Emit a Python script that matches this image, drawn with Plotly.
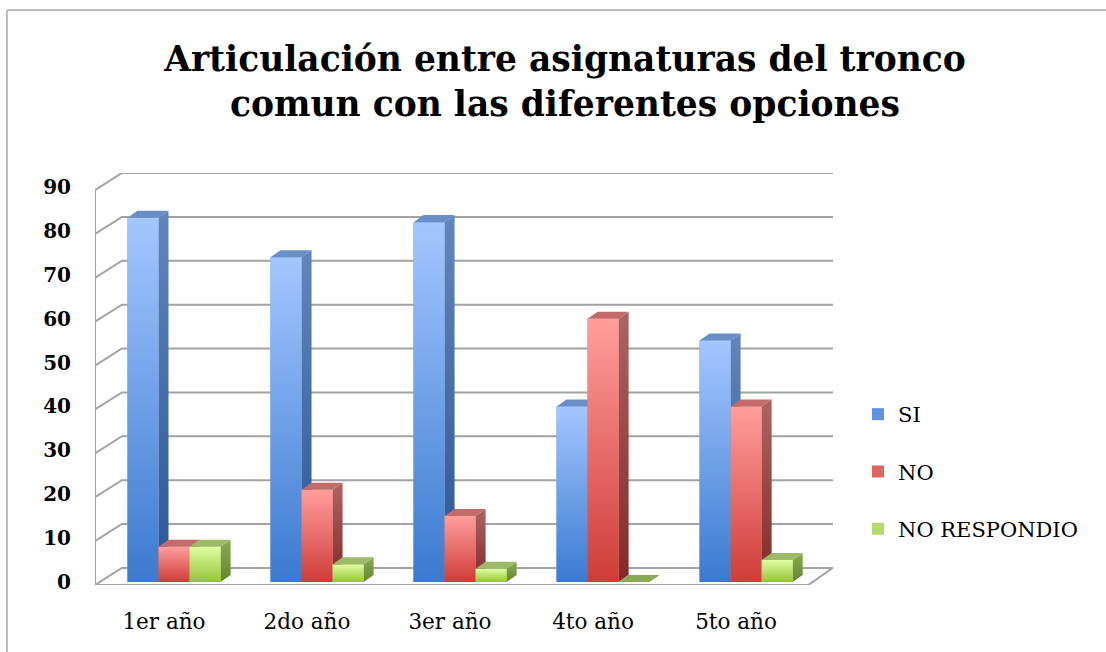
import plotly.graph_objects as go

# ---- data ----
categories = ["1er año", "2do año", "3er año", "4to año", "5to año"]
series_names = ["SI", "NO", "NO RESPONDIO"]
si_values = [83, 74, 82, 40, 55]
no_values = [8, 21, 15, 60, 40]
nr_values = [8, 4, 3, 0, 5]
y_ticks = [0, 10, 20, 30, 40, 50, 60, 70, 80, 90]
title_text = "Articulación entre asignaturas del tronco<br>comun con las diferentes opciones"

# ---- styles ----
W, H = 1106, 652
ML, MR, MT, MB = 95, 273, 173, 67
front_cols = {"SI": ["#3B7AD0", "#A3C7FF"], "NO": ["#CF3C38", "#FF9E9C"], "NO RESPONDIO": ["#93C43A", "#E0FFA0"]}
side_cols = {"SI": ["#2B5693", "#6285BC"], "NO": ["#842927", "#AD6461"], "NO RESPONDIO": ["#62862A", "#8AAA55"]}
top_cols = {"SI": "#6A8FC8", "NO": "#C26C6A", "NO RESPONDIO": "#9DBB66"}
legend_cols = {"SI": "#5E93E0", "NO": "#E06461", "NO RESPONDIO": "#B5DC6A"}
bar_w = 0.217
offsets = [-0.325, -0.108, 0.109]
ddx, ddy = 0.07, 1.6          # bar depth (side/top faces)
label_shift = -0.07           # perspective shift of category labels
x_rng = [-0.552, 4.608]
y_rng = [-0.7, 93.2]
wall_front_x, wall_front_dy = -0.552, -0.7
wall_back_x, wall_back_dy = -0.364, 3.2
floor_front_right = 4.434
grid_col = "#A3A3A3"
serif = "DejaVu Serif"

fig = go.Figure()

# legend-carrying bars (front faces, covered by shaded faces below)
all_vals = [si_values, no_values, nr_values]
xs = list(range(len(categories)))
for name, vals, off in zip(series_names, all_vals, offsets):
    fig.add_trace(go.Bar(
        x=xs, y=vals, name=name, width=bar_w, offset=off,
        marker=dict(color=legend_cols[name], line=dict(width=0)),
        legendgroup=name, hoverinfo="skip"))

# walls & gridlines
for v in y_ticks:
    fig.add_trace(go.Scatter(
        x=[wall_front_x, wall_back_x, x_rng[1]],
        y=[v + wall_front_dy, v + wall_back_dy, v + wall_back_dy],
        mode="lines", line=dict(color=grid_col, width=2),
        showlegend=False, hoverinfo="skip"))
fig.add_trace(go.Scatter(
    x=[wall_front_x, wall_front_x], y=[wall_front_dy, y_ticks[-1] + wall_front_dy],
    mode="lines", line=dict(color=grid_col, width=2), showlegend=False, hoverinfo="skip"))
# floor
fig.add_trace(go.Scatter(
    x=[wall_front_x, floor_front_right, x_rng[1]],
    y=[wall_front_dy, wall_front_dy, wall_back_dy],
    mode="lines", line=dict(color=grid_col, width=2), showlegend=False, hoverinfo="skip"))

# 3D-looking bars, drawn group by group, left to right
for i in xs:
    for name, vals, off in zip(series_names, all_vals, offsets):
        v = vals[i]
        x0 = i + off
        x1 = x0 + bar_w
        if v > 0:
            fig.add_trace(go.Scatter(
                x=[x1, x1 + ddx, x1 + ddx, x1, x1], y=[0, ddy, v + ddy, v, 0],
                fill="toself", mode="lines", line=dict(width=0),
                fillgradient=dict(type="vertical", colorscale=[[0, side_cols[name][0]], [1, side_cols[name][1]]]),
                showlegend=False, hoverinfo="skip"))
            fig.add_trace(go.Scatter(
                x=[x0, x1, x1, x0, x0], y=[0, 0, v, v, 0],
                fill="toself", mode="lines", line=dict(width=0),
                fillgradient=dict(type="vertical", colorscale=[[0, front_cols[name][0]], [1, front_cols[name][1]]]),
                showlegend=False, hoverinfo="skip"))
        fig.add_trace(go.Scatter(
            x=[x0, x1, x1 + ddx, x0 + ddx, x0], y=[v, v, v + ddy, v + ddy, v],
            fill="toself", mode="lines", line=dict(width=0),
            fillcolor=top_cols[name] if v > 0 else side_cols[name][1],
            showlegend=False, hoverinfo="skip"))

# frame (top & left border)
pw = W - ML - MR
ph = H - MT - MB
def px_x(p):
    return (p - ML) / pw
def px_y(p):
    return (H - MB - p) / ph
fig.add_shape(type="line", xref="paper", yref="paper", x0=px_x(7), x1=px_x(1106), y0=px_y(10), y1=px_y(10),
              line=dict(color="#BDBDBD", width=2))
fig.add_shape(type="line", xref="paper", yref="paper", x0=px_x(7), x1=px_x(7), y0=px_y(10), y1=px_y(652),
              line=dict(color="#BDBDBD", width=2))

fig.update_layout(
    width=W, height=H, autosize=False,
    margin=dict(l=ML, r=MR, t=MT, b=MB),
    paper_bgcolor="white", plot_bgcolor="white",
    barmode="overlay",
    title=dict(text=title_text, x=565 / W, xanchor="center", xref="container",
               y=1 - 71 / H, yanchor="middle", yref="container",
               font=dict(family=serif, size=34.5, color="black", weight="bold")),
    xaxis=dict(range=x_rng, tickmode="array", tickvals=[i + label_shift for i in xs], ticktext=categories,
               showgrid=False, zeroline=False, showline=False, ticks="",
               ticklabelstandoff=21,
               tickfont=dict(family=serif, size=21.5, color="black")),
    yaxis=dict(range=y_rng, tickmode="array", tickvals=y_ticks,
               showgrid=False, zeroline=False, showline=False, ticks="",
               ticklabelstandoff=23,
               tickfont=dict(family=serif, size=20, color="black", weight="bold")),
    legend=dict(x=858 / W, xref="container", y=1 - 394 / H, yref="container",
                xanchor="left", yanchor="top", tracegroupgap=27,
                font=dict(family=serif, size=21, color="black"),
                itemwidth=30, bgcolor="rgba(0,0,0,0)"),
    showlegend=True,
)

fig.write_html("out.html", post_script="document.body.style.margin='0';",
               config={"displayModeBar": False})
